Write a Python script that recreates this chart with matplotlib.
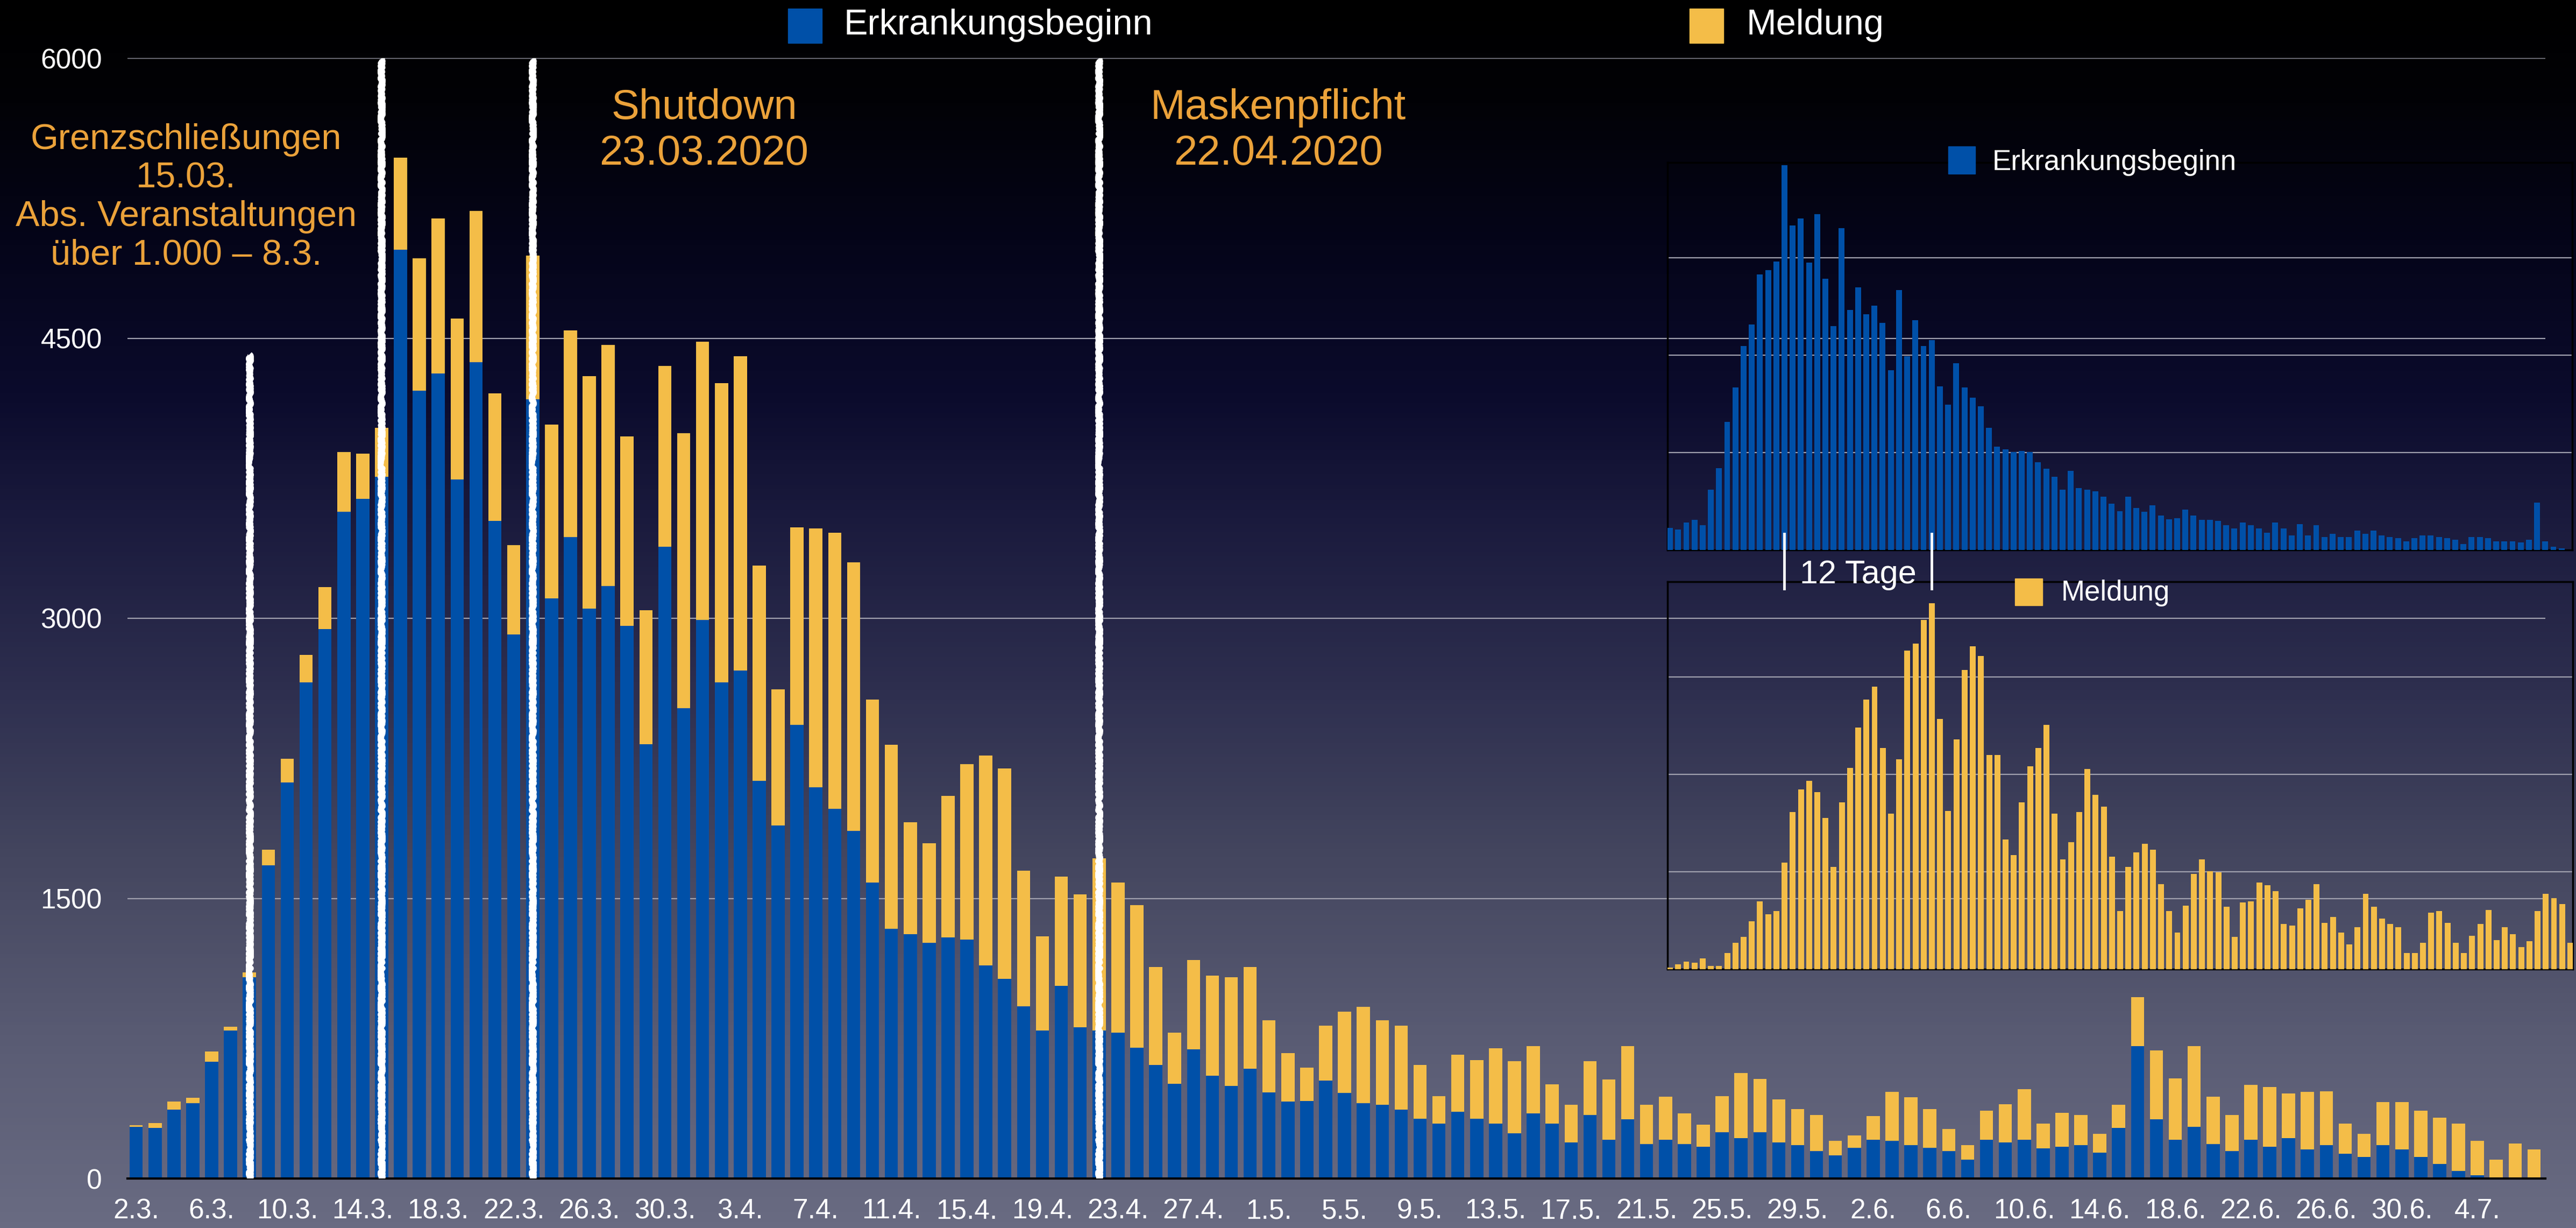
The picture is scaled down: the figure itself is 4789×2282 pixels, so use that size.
import datetime as dt
import numpy as np
import matplotlib
matplotlib.use("Agg")
import matplotlib.pyplot as plt
from matplotlib.colors import LinearSegmentedColormap
from matplotlib.patches import Rectangle
from matplotlib.lines import Line2D
from matplotlib.transforms import blended_transform_factory

plt.rcParams['font.family'] = ['Liberation Sans', 'DejaVu Sans']

W, H = 4789, 2282

BLUE = '#0050a8'
YELLOW = '#f4bd48'
ORANGE = '#eba23a'
GRID = '#a0a0ae'

start = dt.date(2020, 3, 2)

# Hauptdiagramm: Gesamthoehe je Tag (2.3. - 7.7.) und Anteil nach Erkrankungsbeginn
gesamt = [285, 298, 411, 432, 679, 813, 1103, 1761, 2247, 2805,
          3166, 3891, 3883, 4021, 5468, 4927, 5140, 4604, 5182, 4205,
          3392, 4943, 4038, 4541, 4298, 4465, 3975, 3044, 4352, 3992,
          4482, 4260, 4403, 3283, 2621, 3488, 3480, 3459, 3300, 2566,
          2323, 1908, 1795, 2050, 2218, 2264, 2197, 1648, 1296, 1618,
          1522, 1715, 1585, 1463, 1132, 780, 1170, 1086, 1078, 1132,
          847, 671, 595, 818, 893, 918, 847, 818, 608, 440,
          662, 633, 696, 627, 708, 503, 396, 627, 531, 708,
          394, 439, 348, 287, 442, 564, 533, 424, 373, 340,
          203, 231, 333, 465, 434, 371, 264, 180, 363, 399,
          477, 293, 353, 339, 239, 394, 970, 685, 537, 708,
          437, 339, 500, 491, 454, 463, 468, 293, 239, 408,
          408, 362, 325, 293, 201, 101, 187, 155]
erkrankung = [277, 272, 369, 403, 625, 792, 1078, 1677, 2122, 2658,
              2943, 3572, 3639, 3757, 4973, 4218, 4310, 3744, 4373, 3522,
              2914, 4172, 3107, 3434, 3052, 3174, 2960, 2327, 3384, 2520,
              2990, 2658, 2721, 2130, 1891, 2428, 2096, 1979, 1862, 1585,
              1338, 1308, 1262, 1291, 1279, 1140, 1069, 922, 793, 1031,
              809, 792, 780, 700, 608, 507, 692, 549, 495, 587,
              461, 411, 415, 524, 457, 403, 394, 369, 319, 294,
              356, 319, 294, 241, 348, 295, 193, 340, 208, 317,
              185, 208, 185, 170, 249, 216, 249, 193, 180, 147,
              124, 163, 208, 203, 180, 163, 147, 102, 208, 193,
              207, 161, 170, 178, 138, 270, 708, 316, 207, 276,
              184, 147, 207, 170, 216, 155, 178, 132, 115, 178,
              155, 115, 78, 40, 17, 6, 6, 0]
meldung = [g - e for g, e in zip(gesamt, erkrankung)]

# kleine Diagramme rechts (ab 2.3.)
inset_erkrankung = [282, 264, 350, 388, 316, 773, 1051, 1645, 2084, 2617,
                    2891, 3534, 3592, 3702, 4938, 4162, 4255, 3688, 4310, 3479,
                    2871, 4128, 3080, 3369, 3025, 3135, 2916, 2308, 3334, 2486,
                    2950, 2617, 2692, 2098, 1865, 2397, 2084, 1954, 1844, 1569,
                    1326, 1291, 1257, 1267, 1257, 1126, 1040, 941, 776, 1016,
                    793, 773, 752, 683, 594, 498, 683, 539, 488, 573,
                    443, 391, 409, 519, 443, 388, 388, 371, 319, 278,
                    354, 319, 278, 223, 354, 278, 189, 333, 189, 316,
                    165, 206, 165, 165, 247, 206, 247, 185, 165, 151,
                    110, 151, 185, 185, 165, 151, 130, 76, 165, 165,
                    151, 110, 110, 110, 96, 130, 608, 110, 41, 21]
inset_meldung = [29, 74, 115, 99, 165, 49, 49, 247, 408, 499,
                 738, 1043, 845, 894, 1640, 2419, 2769, 2901, 2724, 2328,
                 1574, 2567, 3099, 3721, 4158, 4356, 3412, 2394, 3231, 4912,
                 5019, 5382, 5642, 3853, 2436, 3544, 4607, 4978, 4822, 3297,
                 3297, 1999, 1756, 2567, 3124, 3412, 3763, 2394, 1690, 1957,
                 2419, 3083, 2683, 2501, 1731, 894, 1574, 1797, 1929, 1838,
                 1310, 894, 565, 977, 1471, 1690, 1508, 1492, 960, 499,
                 1026, 1043, 1335, 1294, 1203, 696, 672, 935, 1067, 1310,
                 713, 804, 565, 383, 647, 1162, 960, 779, 696, 647,
                 247, 247, 408, 870, 894, 713, 408, 247, 515, 696,
                 911, 449, 647, 540, 342, 433, 894, 1162, 1092, 1001,
                 408]

# Ereignisse (Datum, Hoehe der weissen Linie)
ereignis_datum = [dt.date(2020, 3, 8), dt.date(2020, 3, 15),
                  dt.date(2020, 3, 23), dt.date(2020, 4, 22)]
ereignis_hoehe = [4415, 6000, 6000, 6000]

yticks = [0, 1500, 3000, 4500, 6000]

days = [start + dt.timedelta(days=i) for i in range(len(gesamt))]
x = np.arange(len(gesamt))
labels = ["%d.%d." % (d.day, d.month) for d in days]

fig = plt.figure(figsize=(W / 100, H / 100), dpi=100)

# Hintergrundverlauf
bg = fig.add_axes([0, 0, 1, 1], zorder=-10)
cmap = LinearSegmentedColormap.from_list('bg', [
    (0.0, '#000000'), (0.08, '#020206'), (0.2, '#05051a'), (0.32, '#0b0b2c'),
    (0.42, '#1a1a3d'), (0.57, '#2f3050'), (0.70, '#44465f'), (0.86, '#5b5d75'),
    (1.0, '#696b82')])
bg.imshow(np.linspace(0, 1, 600).reshape(-1, 1), aspect='auto', cmap=cmap,
          extent=[0, 1, 0, 1])
bg.set_axis_off()

# Hauptdiagramm
ax = fig.add_axes([237 / W, (H - 2190) / H, (4732 - 237) / W, (2190 - 108) / H])
ax.patch.set_alpha(0)
ax.bar(x, erkrankung, width=0.7, color=BLUE, zorder=3)
ax.bar(x, meldung, width=0.7, bottom=erkrankung, color=YELLOW, zorder=3)
ax.set_xlim(-0.46, 127.6)
ax.set_ylim(0, 6000)
ax.set_yticks(yticks)
ax.set_axisbelow(True)
ax.yaxis.grid(True, color=GRID, lw=1.6)
for s in ['left', 'right', 'top']:
    ax.spines[s].set_visible(False)
ax.spines['bottom'].set_color('black')
ax.spines['bottom'].set_linewidth(3)
ax.spines['bottom'].set_zorder(4)
ax.set_xticks(x[::4])
ax.set_xticklabels(labels[::4])
ax.tick_params(axis='both', length=0, colors='white', labelsize=37)
ax.tick_params(axis='y', pad=34)
ax.tick_params(axis='x', pad=26)

for d, h in zip(ereignis_datum, ereignis_hoehe):
    i = days.index(d)
    ln, = ax.plot([i, i], [0, h], color='white', lw=8, zorder=5,
                  solid_capstyle='butt')
    ln.set_sketch_params(scale=2, length=6, randomness=20)

fig.text(346 / W, 1 - 367 / H,
         "Grenzschließungen\n15.03.\nAbs. Veranstaltungen\nüber 1.000 – 8.3.",
         ha='center', va='center', multialignment='center', fontsize=48,
         color=ORANGE, linespacing=1.2)
fig.text(1309 / W, 1 - 243 / H, "Shutdown\n23.03.2020", ha='center',
         va='center', multialignment='center', fontsize=56, color=ORANGE,
         linespacing=1.2)
fig.text(2376 / W, 1 - 243 / H, "Maskenpflicht\n22.04.2020", ha='center',
         va='center', multialignment='center', fontsize=56, color=ORANGE,
         linespacing=1.2)

# Legende oben
fig.add_artist(Rectangle((1465 / W, 1 - 80 / H), 63 / W, 64 / H,
                         transform=fig.transFigure, color=BLUE))
fig.text(1568 / W, 1 - 47 / H, "Erkrankungsbeginn", va='center', fontsize=48,
         color='white')
fig.add_artist(Rectangle((3141 / W, 1 - 80 / H), 63 / W, 64 / H,
                         transform=fig.transFigure, color=YELLOW))
fig.text(3246 / W, 1 - 47 / H, "Meldung", va='center', fontsize=48,
         color='white')


def inset(rect, values, color, top, grid):
    a = fig.add_axes(rect)
    a.patch.set_alpha(0)
    a.bar(np.arange(len(values)), values, width=0.72, color=color, zorder=3)
    a.set_xlim(-0.3, 110.3)
    a.set_ylim(0, top)
    a.set_yticks(grid)
    a.set_xticks([])
    a.set_axisbelow(True)
    a.yaxis.grid(True, color=GRID, lw=1.6)
    a.tick_params(axis='y', length=0, labelleft=False)
    for s in a.spines.values():
        s.set_color('black')
        s.set_linewidth(2.5)
    return a


ax1 = inset([3100 / W, (H - 1022) / H, 1682 / W, 720 / H], inset_erkrankung,
            BLUE, 4970, [1250, 2500, 3750])
ax2 = inset([3100 / W, (H - 1801) / H, 1683 / W, 720 / H], inset_meldung,
            YELLOW, 5970, [1500, 3000, 4500])

fig.add_artist(Rectangle((3622 / W, 1 - 323 / H), 50 / W, 51 / H,
                         transform=fig.transFigure, color=BLUE))
fig.text(3704 / W, 1 - 302 / H, "Erkrankungsbeginn", va='center', fontsize=38,
         color='white')
fig.add_artist(Rectangle((3746 / W, 1 - 1125 / H), 51 / W, 50 / H,
                         transform=fig.transFigure, color=YELLOW))
fig.text(3832 / W, 1 - 1102 / H, "Meldung", va='center', fontsize=38,
         color='white')

# "12 Tage" zwischen den Spitzen
peak1 = int(np.argmax(inset_erkrankung))
peak2 = int(np.argmax(inset_meldung))
tr = blended_transform_factory(ax1.transData, fig.transFigure)
for p in (peak1, peak2):
    fig.add_artist(Line2D([p, p], [1 - 992 / H, 1 - 1094 / H], transform=tr,
                          color='white', lw=3.5))
fig.text((peak1 + peak2) / 2, 1 - 1068 / H, "12 Tage", transform=tr,
         ha='center', va='center', fontsize=44, color='white')

fig.savefig("out.png", dpi=100)
